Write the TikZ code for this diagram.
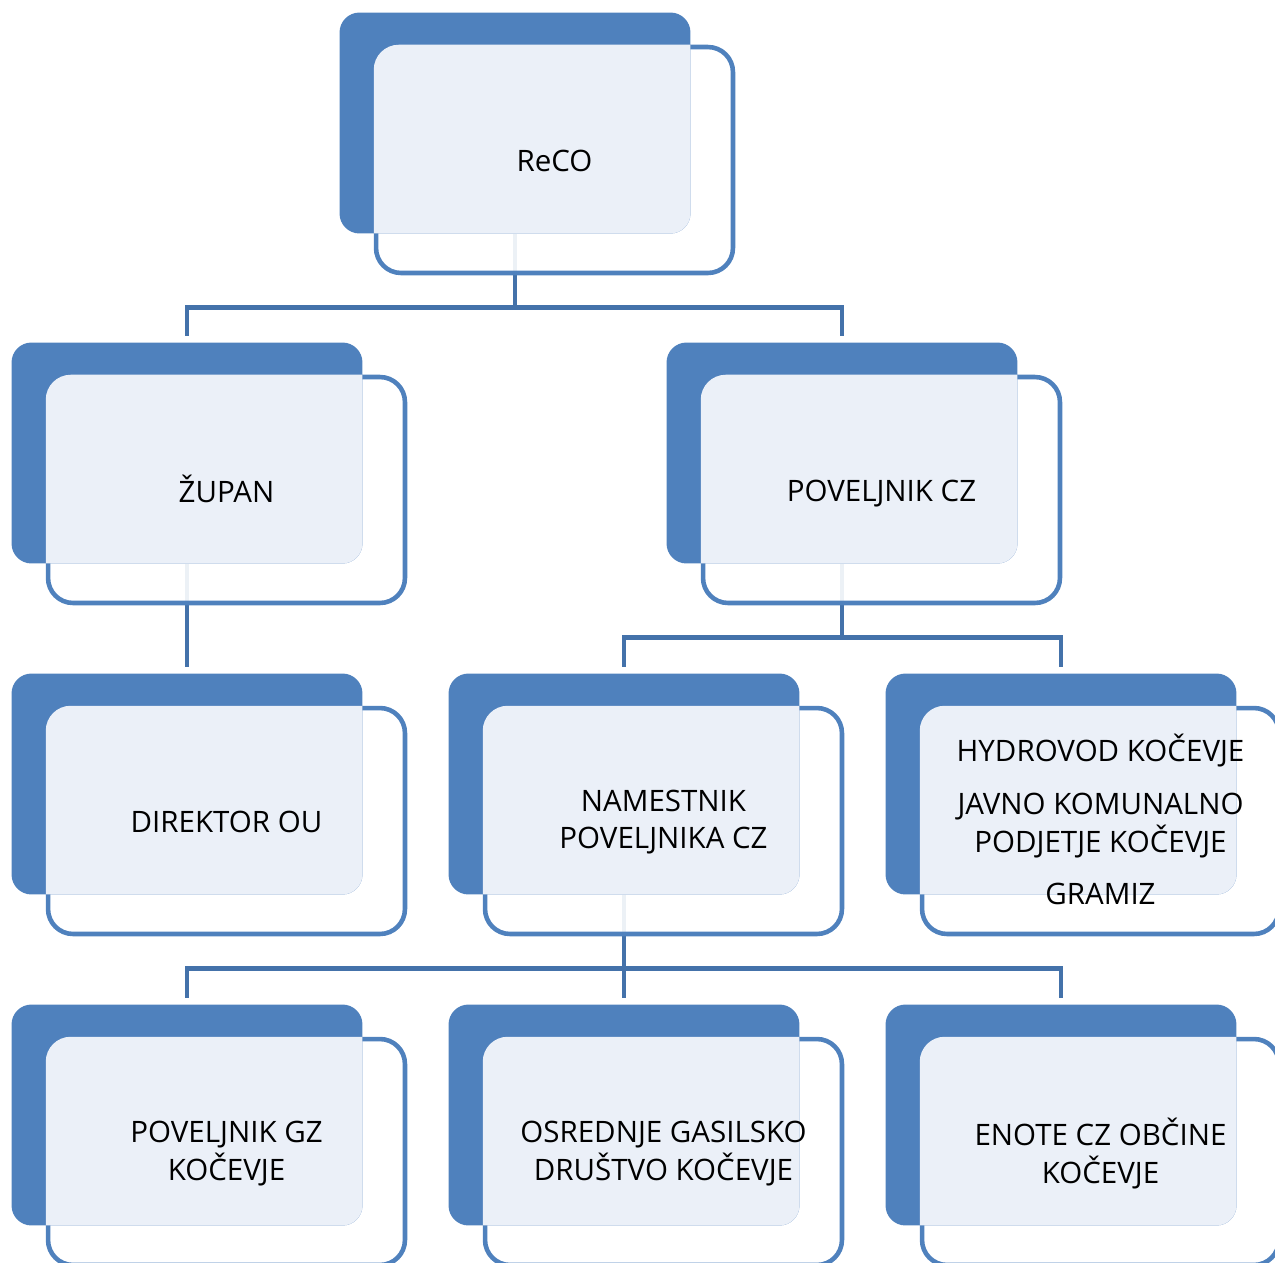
\documentclass[tikz,border=0pt]{standalone}
\usepackage{fontspec}
\setmainfont{Open Sans}
\usepackage{tikz}
\usetikzlibrary{positioning}

\definecolor{boxblue}{RGB}{79,129,189}
\definecolor{lineblue}{RGB}{68,114,170}
\definecolor{boxlight}{RGB}{235,240,248}

\pgfdeclarelayer{background}
\pgfsetlayers{background,main}

% one chart box: name, centre of the framed box, text
\newcommand{\orgbox}[4]{%
  \node[frontbox] (#1-f) at (#2,#3) {};
  \node[backbox, path picture={\fill[boxlight, rounded corners=0.5cm] (#1-f.south west) rectangle (#1-f.north east);}]
    (#1) at ([shift={(-39.5,-37)}]#1-f.center) {};
  \node[boxtext] (#1-t) at ([yshift=-0.08cm]#1-f.center) {#4};
}

\begin{document}
\begin{tikzpicture}[x=0.02cm, y=-0.02cm,
    frontbox/.style={draw=boxblue, line width=2.6pt, fill=white, fill opacity=0.9,
      rounded corners=0.5cm, minimum width=7.14cm, minimum height=4.52cm, inner sep=0pt},
    backbox/.style={fill=boxblue, rounded corners=0.4cm, minimum width=7.02cm,
      minimum height=4.42cm, inner sep=0pt},
    boxtext/.style={align=center, font=\fontsize{16.8}{21.6}\selectfont, inner sep=0pt,
      execute at begin node=\strut, execute at end node=\strut},
    conn/.style={draw=lineblue, line width=2.8pt}]
	\useasboundingbox (0,0) rectangle (1275,1262);
	% top
	\orgbox{reco}{554.5}{160}{ReCO}
	% second row
	\orgbox{zupan}{226.5}{490}{ŽUPAN}
	\orgbox{pov}{881.5}{490}{POVELJNIK CZ}
	% third row
	\orgbox{dir}{226.5}{821}{DIREKTOR OU}
	\orgbox{nam}{663.5}{821}{NAMESTNIK\\POVELJNIKA CZ}
	\orgbox{hyd}{1100.5}{821}{HYDROVOD KOČEVJE\\[0.3cm]JAVNO KOMUNALNO\\PODJETJE KOČEVJE\\[0.3cm]GRAMIZ}
	% bottom row
	\orgbox{gz}{226.5}{1152}{POVELJNIK GZ\\KOČEVJE}
	\orgbox{ogd}{663.5}{1152}{OSREDNJE GASILSKO\\DRUŠTVO KOČEVJE}
	\orgbox{enote}{1100.5}{1152}{ENOTE CZ OBČINE\\KOČEVJE}
	% connectors
	\begin{pgfonlayer}{background}
		\draw[conn] (reco.south) -- ++(0,74) -| ([yshift=0.12cm]zupan.north);
		\draw[conn] (reco.south) ++(0,74) -| ([yshift=0.12cm]pov.north);
		\draw[conn] (zupan.south) -- ([yshift=0.12cm]dir.north);
		\draw[conn] (pov.south) -- ++(0,74) -| ([yshift=0.12cm]nam.north);
		\draw[conn] (pov.south) ++(0,74) -| ([yshift=0.12cm]hyd.north);
		\draw[conn] (nam.south) -- ++(0,74) -| ([yshift=0.12cm]gz.north);
		\draw[conn] (nam.south) -- ([yshift=0.12cm]ogd.north);
		\draw[conn] (nam.south) ++(0,74) -| ([yshift=0.12cm]enote.north);
	\end{pgfonlayer}
\end{tikzpicture}
\end{document}
